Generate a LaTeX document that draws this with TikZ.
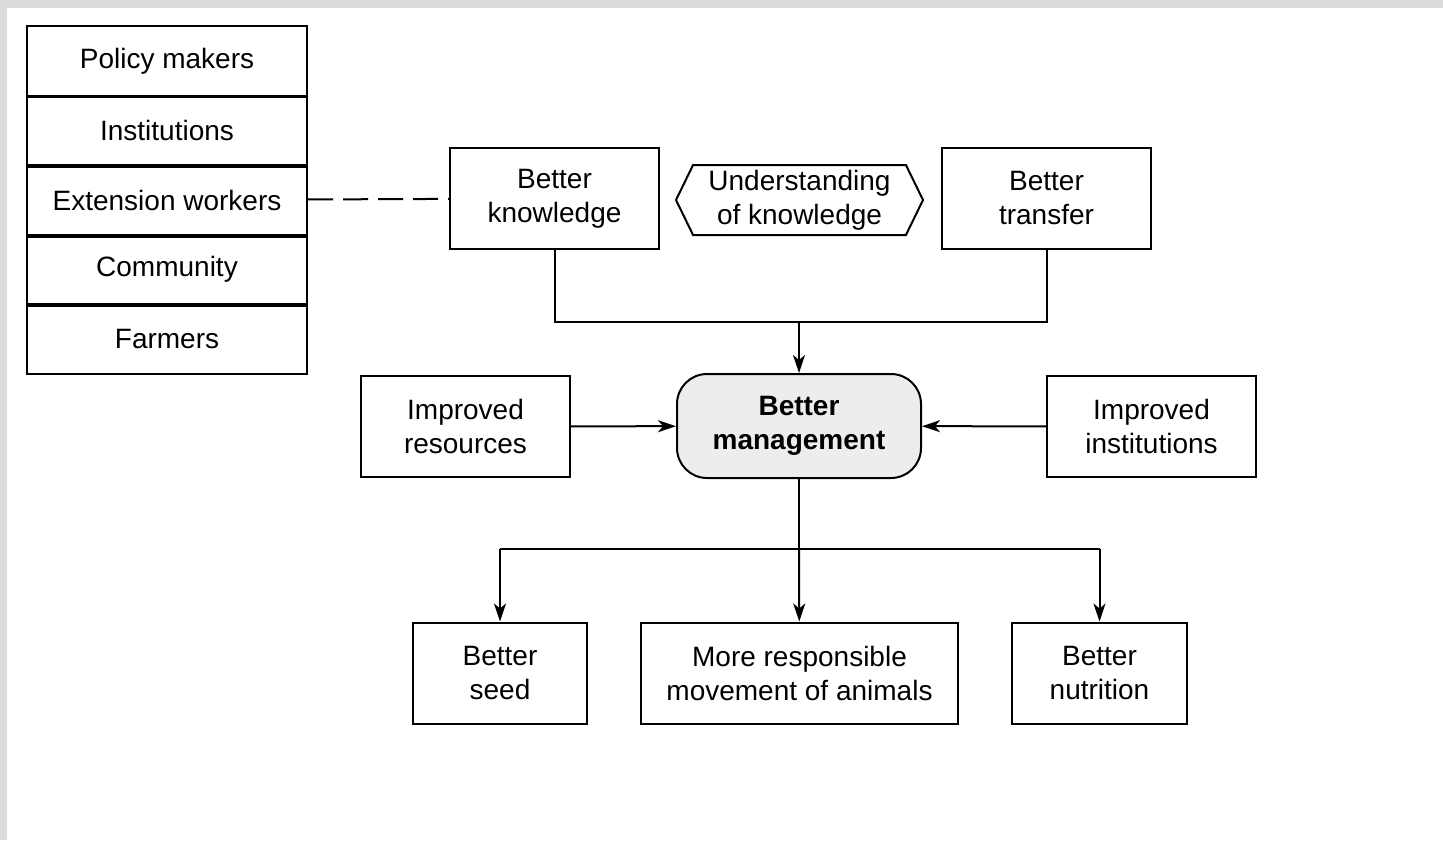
\documentclass[tikz,border=0pt]{standalone}
\usepackage{fontspec}
\setmainfont{Liberation Sans}
\usetikzlibrary{arrows.meta,shapes.symbols}

\begin{document}
\begin{tikzpicture}[x=0.5pt,y=-0.5pt,line width=1pt]
	\fill[black!14] (0,0) rectangle (1443,840);
	\fill[white] (7,8) rectangle (1443,840);
	\useasboundingbox (0,0) rectangle (1443,840);
	\begin{scope}[every node/.style={rectangle,draw,align=center,inner sep=0pt,minimum width=104.5pt,minimum height=50.5pt,font=\fontsize{14}{17}\selectfont}]
		% actors
		\node[minimum width=140pt,minimum height=34.8pt] (Policy makers) at (167,60.8) {Policy makers};
		\node[minimum width=140pt,minimum height=34.8pt] (Institutions) at (167,130.4) {Institutions};
		\node[minimum width=140pt,minimum height=34.8pt] (Extension workers) at (167,200) {Extension workers};
		\node[minimum width=140pt,minimum height=34.8pt] (Community) at (167,269.6) {Community};
		\node[minimum width=140pt,minimum height=34.8pt] (Farmers) at (167,339.2) {Farmers};
		% knowledge
		\node (Better knowledge) at (554.5,198.5) {Better\\knowledge};
		\node[signal,signal to=east and west,signal pointer angle=128,minimum width=123.5pt,minimum height=35pt] (Understanding) at (799.5,200) {Understanding\\of knowledge};
		\node (Better transfer) at (1046.5,198.5) {Better\\transfer};
		% management
		\node[rounded corners=15pt,fill=black!7,minimum width=122pt,minimum height=52pt,font=\fontsize{14}{17}\selectfont\bfseries] (Better management) at (799,426) {Better\\management};
		\node (Improved resources) at (465.5,426.5) {Improved\\resources};
		\node (Improved institutions) at (1151.5,426.5) {Improved\\institutions};
		% outcomes
		\node[minimum width=87pt] (Better seed) at (500,673) {Better\\seed};
		\node[minimum width=158.5pt] (Movement of animals) at (799.5,673) {More responsible\\movement of animals};
		\node[minimum width=87.5pt] (Better nutrition) at (1099.5,673) {Better\\nutrition};
	\end{scope}
	\foreach \row in {Policy makers,Institutions,Extension workers,Community}
		\draw[line width=1.8pt] (\row.south west) -- (\row.south east);
	\coordinate (join) at (799,322);
	\coordinate (split) at (799,549);
	\coordinate (seed branch) at (Better seed.north |- split);
	\coordinate (nutrition branch) at (Better nutrition.north |- split);
	\begin{scope}[>={Stealth[length=9pt,width=6pt,inset=2.5pt]}]
	\draw[dash pattern=on 12.5pt off 5pt] (Extension workers) -- (Better knowledge);
	\draw (Better knowledge) |- (join) -| (Better transfer);
	\path [->] (join) edge (Better management);
	\path [->] (Improved resources) edge (Better management);
	\path [->] (Improved institutions) edge (Better management);
	\draw (Better management) -- (split);
	\draw (seed branch) -- (nutrition branch);
	\path [->] (seed branch) edge (Better seed);
	\path [->] (split) edge (Movement of animals);
	\path [->] (nutrition branch) edge (Better nutrition);
	\end{scope}
\end{tikzpicture}
\end{document}
